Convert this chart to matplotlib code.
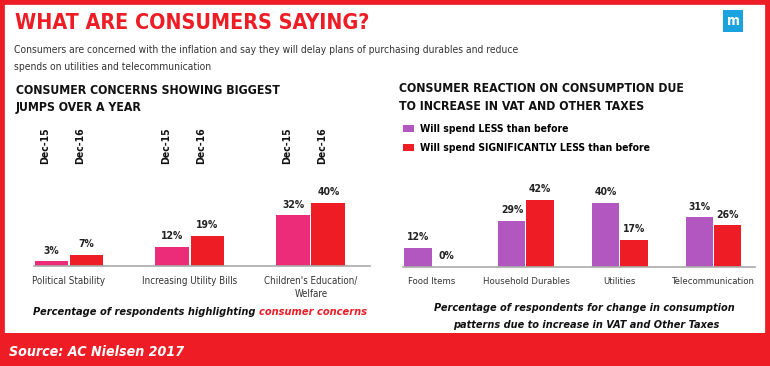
import matplotlib
matplotlib.use("Agg")
import matplotlib.pyplot as plt
import matplotlib.patches as mpatches
from matplotlib import font_manager as fm
from matplotlib.font_manager import FontProperties
from matplotlib.transforms import blended_transform_factory
import numpy as np

# ---------------- data ----------------
left_categories = ["Political Stability", "Increasing Utility Bills", "Children's Education/\nWelfare"]
left_series = ["Dec-15", "Dec-16"]
left_dec15 = [3, 12, 32]
left_dec16 = [7, 19, 40]

right_categories = ["Food Items", "Household Durables", "Utilities", "Telecommunication"]
right_series = ["Will spend LESS than before", "Will spend SIGNIFICANTLY LESS than before"]
right_less = [12, 29, 40, 31]
right_sig_less = [0, 42, 17, 26]

title = "WHAT ARE CONSUMERS SAYING?"
subtitle_lines = ["Consumers are concerned with the inflation and say they will delay plans of purchasing durables and reduce",
                  "spends on utilities and telecommunication"]
left_heading = ["CONSUMER CONCERNS SHOWING BIGGEST", "JUMPS OVER A YEAR"]
right_heading = ["CONSUMER REACTION ON CONSUMPTION DUE", "TO INCREASE IN VAT AND OTHER TAXES"]
source = "Source: AC Nielsen 2017"

# ---------------- fonts ----------------
_files = {}
for f in fm.fontManager.ttflist:
    _files[f.fname.split("/")[-1]] = f.fname
_names = {f.name for f in fm.fontManager.ttflist}

COND = {
    ("normal", "normal"): "DejaVuSansCondensed.ttf",
    ("bold", "normal"): "DejaVuSansCondensed-Bold.ttf",
    ("normal", "italic"): "DejaVuSansCondensed-Oblique.ttf",
    ("bold", "italic"): "DejaVuSansCondensed-BoldOblique.ttf",
}
HAVE_NARROW = "Liberation Sans Narrow" in _names
HAVE_COND = all(v in _files for v in COND.values())


def F(size, weight="normal", style="normal"):
    if HAVE_NARROW:
        return FontProperties(family="Liberation Sans Narrow", weight=weight, style=style,
                              size=size * 1.05)
    if HAVE_COND:
        return FontProperties(fname=_files[COND[(weight, style)]], size=size)
    return FontProperties(family="Liberation Sans", weight=weight, style=style,
                          size=size * 0.9)


# ---------------- style ----------------
PINK = "#ec2c78"
RED = "#ee1c25"
PURPLE = "#b257c0"
W, H = 770, 366

fig = plt.figure(figsize=(W / 100, H / 100), dpi=100)
fig.patch.set_facecolor("white")


def P(x, y):
    return (x / W, 1 - y / H)


def axes_px(x0, y_top, x1, y_bot):
    return fig.add_axes([x0 / W, 1 - y_bot / H, (x1 - x0) / W, (y_bot - y_top) / H])


# border and footer
fig.add_artist(mpatches.Rectangle((0, 0), 1, 1, transform=fig.transFigure, fill=False,
                                  edgecolor=RED, linewidth=7, zorder=0))
fig.add_artist(mpatches.Rectangle(P(0, 366), 1, 33 / H, transform=fig.transFigure,
                                  facecolor=RED, edgecolor="none", zorder=1))
fig.text(*P(9, 352), source, color="white", fontproperties=F(10.2, "bold", "italic"),
         va="center", ha="left", zorder=2)

# title & subtitle
fig.text(*P(15, 23), title, color=RED, fontproperties=F(15.4, "bold"),
         va="center", ha="left")
for yy, line in zip((50, 67), subtitle_lines):
    fig.text(*P(14, yy), line, color="#333333", fontproperties=F(7.4),
             va="center", ha="left")

# logo
fig.add_artist(mpatches.Rectangle(P(723, 32), 20 / W, 22 / H, transform=fig.transFigure,
                                  facecolor="#1ba3e0", edgecolor="none"))
fig.text(*P(733, 21), "m", color="white", fontproperties=F(10, "bold"), ha="center",
         va="center")

# headings
for yy, line in zip((90, 108), left_heading):
    fig.text(*P(16, yy), line, color="#111111", fontproperties=F(8.8, "bold"),
             va="center", ha="left")
for yy, line in zip((88, 107), right_heading):
    fig.text(*P(399, yy), line, color="#111111", fontproperties=F(8.8, "bold"),
             va="center", ha="left")

# ---------------- left chart ----------------
axL = axes_px(34, 266 - 79, 370, 266)
xL = np.arange(len(left_categories))
bw = 0.28
off = 0.145
b1 = axL.bar(xL - off, left_dec15, bw, color=PINK)
b2 = axL.bar(xL + off, left_dec16, bw, color=RED)
axL.set_xlim(-0.29, 2.49)
axL.set_ylim(0, 50)
for bars, vals in ((b1, left_dec15), (b2, left_dec16)):
    for r, v in zip(bars, vals):
        axL.annotate(f"{v}%", (r.get_x() + r.get_width() / 2, v), xytext=(0, 4),
                     textcoords="offset points", ha="center", va="bottom",
                     fontproperties=F(7.5, "bold"), color="#222222")
trL = blended_transform_factory(axL.transData, fig.transFigure)
for i in range(len(left_categories)):
    for s, dx in zip(left_series, (-off, off)):
        axL.text(xL[i] + dx - 0.05, 1 - 146 / H, s, rotation=90, transform=trL,
                 ha="center", va="center", fontproperties=F(7.5, "bold"),
                 color="#111111")
axL.set_xticks(xL)
axL.set_xticklabels(left_categories, fontproperties=F(7), color="#333333",
                    linespacing=1.4)
axL.tick_params(axis="x", length=0, pad=7)
axL.set_yticks([])
for s in ("top", "right", "left"):
    axL.spines[s].set_visible(False)
axL.spines["bottom"].set_color("#aaaaaa")
axL.spines["bottom"].set_linewidth(1.2)

# left caption
t1 = fig.text(*P(33, 312), "Percentage of respondents highlighting ",
              fontproperties=F(7.9, "bold", "italic"), color="#111111",
              va="center", ha="left")
axL.annotate("consumer concerns", xy=(1, 0), xycoords=t1, va="bottom", ha="left",
             fontproperties=F(7.9, "bold", "italic"), color=RED,
             annotation_clip=False)

# ---------------- right chart ----------------
axR = axes_px(403, 267 - 80, 755, 267)
xR = np.arange(len(right_categories))
bwR = 0.29
offR = 0.15
c1 = axR.bar(xR - offR, right_less, bwR, color=PURPLE, label=right_series[0])
c2 = axR.bar(xR + offR, right_sig_less, bwR, color=RED, label=right_series[1])
axR.set_xlim(-0.31, 3.44)
axR.set_ylim(0, 50)
for bars, vals in ((c1, right_less), (c2, right_sig_less)):
    for r, v in zip(bars, vals):
        axR.annotate(f"{v}%", (r.get_x() + r.get_width() / 2, v), xytext=(0, 4),
                     textcoords="offset points", ha="center", va="bottom",
                     fontproperties=F(7.5, "bold"), color="#222222")
axR.set_xticks(xR)
axR.set_xticklabels(right_categories, fontproperties=F(6.8), color="#333333")
axR.tick_params(axis="x", length=0, pad=7)
axR.set_yticks([])
for s in ("top", "right", "left"):
    axR.spines[s].set_visible(False)
axR.spines["bottom"].set_color("#aaaaaa")
axR.spines["bottom"].set_linewidth(1.2)

leg = fig.legend(handles=[c1, c2], labels=right_series, loc="upper left",
                 bbox_to_anchor=P(394, 115), frameon=False, handlelength=1.0,
                 handleheight=0.6, handletextpad=0.6, labelspacing=0.85,
                 prop=F(7.5, "bold"))

fig.text(*P(584, 308), "Percentage of respondents for change in consumption",
         fontproperties=F(7.8, "bold", "italic"), color="#111111",
         ha="center", va="center")
fig.text(*P(586, 325), "patterns due to increase in VAT and Other Taxes",
         fontproperties=F(7.8, "bold", "italic"), color="#111111",
         ha="center", va="center")

fig.savefig("out.png", dpi=100, facecolor="white")
